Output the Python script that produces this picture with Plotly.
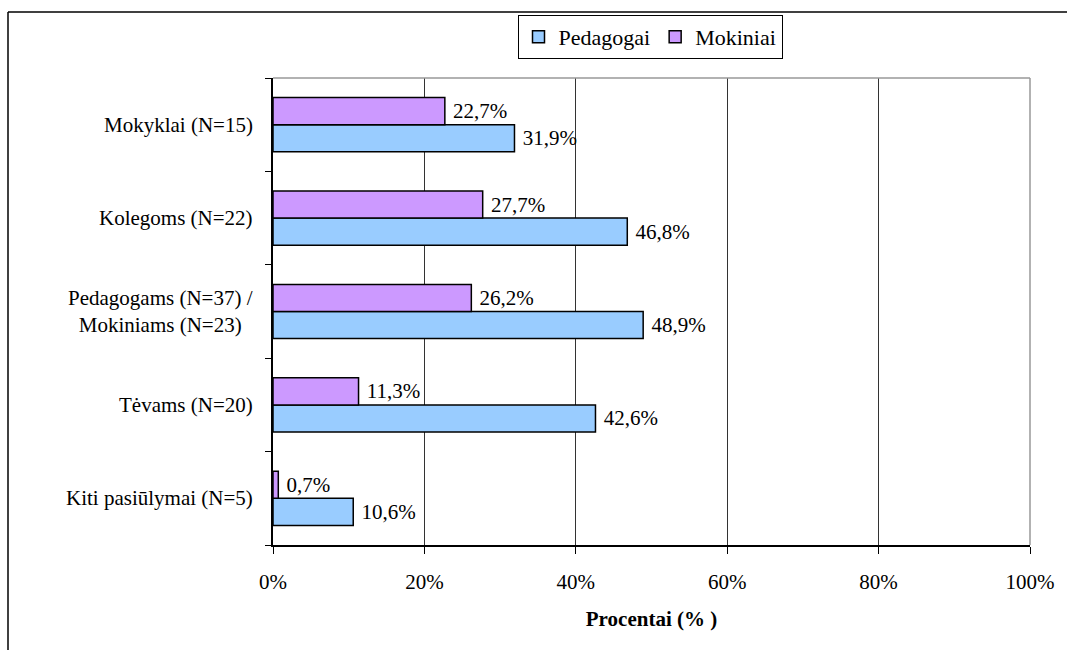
import plotly.graph_objects as go

# ---- data ----
categories = [
    "Mokyklai (N=15)",
    "Kolegoms (N=22)",
    "Pedagogams (N=37) /<br>Mokiniams (N=23)",
    "Tėvams (N=20)",
    "Kiti pasiūlymai (N=5)",
]
pedagogai = [31.9, 46.8, 48.9, 42.6, 10.6]
mokiniai = [22.7, 27.7, 26.2, 11.3, 0.7]
series_names = ["Pedagogai", "Mokiniai"]
x_ticks = [0, 20, 40, 60, 80, 100]
x_tick_labels = ["0%", "20%", "40%", "60%", "80%", "100%"]
x_title = "Procentai (% )"

# ---- layout constants (pixels) ----
W, H = 1067, 650
L, R, T, B = 273, 37, 78, 105
PW, PH = W - L - R, H - T - B
FONT = "Liberation Serif, Times New Roman, Times, serif"
FS = 21


def px_x(p):
    return (p - L) / PW


def px_y(p):
    return (H - B - p) / PH


def fmt(v):
    return "\u00a0" + f"{v:.1f}".replace(".", ",") + "%"


fig = go.Figure()
for name, vals, color in [
    (series_names[0], pedagogai, "#99CCFF"),
    (series_names[1], mokiniai, "#CC99FF"),
]:
    fig.add_trace(
        go.Bar(
            name=name,
            y=categories,
            x=vals,
            orientation="h",
            marker=dict(color=color, line=dict(color="black", width=1.5)),
            text=[fmt(v) for v in vals],
            textposition="outside",
            constraintext="none",
            cliponaxis=False,
            textfont=dict(family=FONT, size=FS, color="black"),
        )
    )

# category labels (centered multi-line) as annotations
for c in categories:
    fig.add_annotation(
        x=0, xref="paper", y=c, yref="y",
        text=c, showarrow=False, xanchor="right", yanchor="middle",
        align="center", xshift=-18,
        font=dict(family=FONT, size=FS, color="black"),
    )

# outer border (left and top edges)
fig.add_shape(type="line", xref="paper", yref="paper",
              x0=px_x(8), x1=px_x(W + 5), y0=px_y(12), y1=px_y(12),
              line=dict(color="black", width=1.5))
fig.add_shape(type="line", xref="paper", yref="paper",
              x0=px_x(8), x1=px_x(8), y0=px_y(12), y1=px_y(H + 5),
              line=dict(color="black", width=1.5))
# plot frame top/right in gray
fig.add_shape(type="line", xref="paper", yref="paper",
              x0=0, x1=1, y0=1, y1=1, line=dict(color="#999999", width=1.5))
fig.add_shape(type="line", xref="paper", yref="paper",
              x0=1, x1=1, y0=0, y1=1, line=dict(color="#999999", width=1.5))

fig.update_layout(
    width=W, height=H,
    margin=dict(l=L, r=R, t=T, b=B, autoexpand=False),
    paper_bgcolor="white", plot_bgcolor="white",
    barmode="group", bargap=0.42, bargroupgap=0,
    font=dict(family=FONT, size=FS, color="black"),
    showlegend=True,
    legend=dict(
        orientation="h", x=px_x(650), y=px_y(37),
        xanchor="center", yanchor="middle",
        bordercolor="black", borderwidth=1, bgcolor="white",
        font=dict(family=FONT, size=22, color="black"),
        traceorder="normal",
    ),
    xaxis=dict(
        range=[0, 100], tickmode="array", tickvals=x_ticks, ticktext=x_tick_labels,
        showgrid=True, gridcolor="#333333", gridwidth=1,
        showline=True, linecolor="black", linewidth=1.5,
        ticks="outside", ticklen=7, tickcolor="black",
        ticklabelstandoff=10,
        tickfont=dict(family=FONT, size=FS),
        zeroline=False,
        title=dict(text="<b>" + x_title + "</b>", standoff=18,
                   font=dict(family=FONT, size=FS)),
    ),
    yaxis=dict(
        categoryorder="array", categoryarray=categories[::-1],
        showticklabels=False,
        showline=True, linecolor="black", linewidth=1.5,
        ticks="outside", ticklen=6, tickcolor="black",
        tickson="boundaries", showgrid=False, zeroline=False,
    ),
)

fig.write_html("out.html", config={"displayModeBar": False},
               post_script="document.body.style.margin='0';")
